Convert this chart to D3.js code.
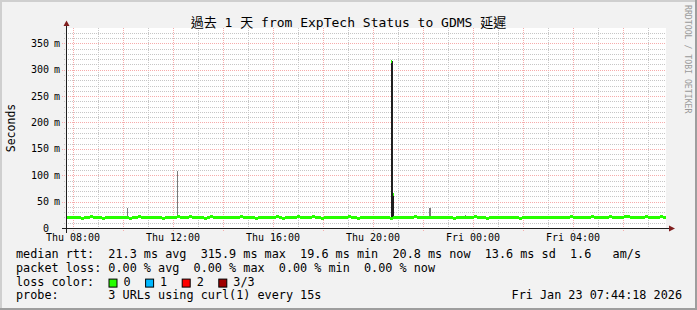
<!DOCTYPE html>
<html>
<head>
<meta charset="utf-8">
<script src="https://cdn.jsdelivr.net/npm/d3@7"></script>
<style>
    body { margin: 0; background: #f2f2f2; }
    svg { display: block; }
    text { font-family: "DejaVu Sans Mono", "Noto Sans CJK TC", monospace; fill: #000; }
</style>
</head>
<body>
<script>
    // ---- data ----
    const title = "過去 1 天 from ExpTech Status to GDMS 延遲";
    const startTime = Date.UTC(2026, 0, 22, 7, 44, 18);   // Thu
    const endTime = Date.UTC(2026, 0, 23, 7, 44, 18);     // Fri
    const stepSec = 432; // one median value every 7.2 min

    // median rtt in ms, one per step
    const medianRtt = [
        20.2,21.6,20.0,20.0,20.0,19.8,20.0,20.0,21.8,20.0,20.0,20.0,19.8,20.0,20.0,20.0,21.6,20.0,20.0,20.0,
        20.0,19.8,20.0,20.0,21.8,20.0,20.0,20.0,20.0,21.6,20.0,20.0,19.8,20.0,20.0,20.0,20.0,21.8,20.0,20.0,
        20.0,21.8,21.6,20.0,20.0,20.0,19.8,20.0,21.8,20.0,20.0,20.0,21.6,20.0,20.0,20.0,20.0,20.0,21.8,20.0,
        20.0,20.0,20.0,19.8,20.0,21.6,20.0,20.0,20.0,20.0,21.8,20.0,19.8,20.0,20.0,20.0,21.6,21.8,20.0,20.0,
        20.0,20.0,21.8,20.0,20.0,19.8,20.0,20.0,20.0,21.6,20.0,20.0,20.0,20.0,21.8,20.0,20.0,19.8,20.0,20.0,
        20.2,20.0,20.0,20.0,20.0,20.0,20.0,20.0,19.8,20.0,20.0,21.6,20.0,20.0,20.0,20.0,21.8,20.0,20.0,20.0,
        20.0,20.0,20.0,20.0,20.0,21.6,20.0,20.0,20.0,19.8,20.0,20.0,20.0,20.0,20.0,20.0,21.8,20.0,20.0,20.0,
        19.8,20.0,20.0,20.0,20.0,20.0,20.0,20.0,20.0,20.0,20.0,19.8,20.0,20.0,20.0,20.0,20.0,20.0,20.0,20.0,
        20.0,20.0,20.0,20.0,20.0,21.6,20.0,20.0,21.8,20.0,20.0,21.6,20.0,20.0,20.0,21.8,20.0,20.0,21.6,20.0,
        20.0,21.8,20.0,20.0,21.6,20.0,21.8,21.8,20.0,20.0,21.6,20.0,20.0,21.8,20.0,20.0,21.6,20.0,21.8,20.0
    ];

    // smoke outliers (single 144 s samples): time, min / max ping and median
    const outlierTime = [
        "2026-01-22T09:06:00Z", "2026-01-22T10:11:00Z", "2026-01-22T12:10:00Z", "2026-01-22T15:49:00Z",
        "2026-01-22T18:25:00Z", "2026-01-22T20:01:00Z", "2026-01-22T20:44:18Z", "2026-01-22T20:46:42Z",
        "2026-01-22T20:49:06Z", "2026-01-22T22:15:30Z", "2026-01-22T22:17:54Z", "2026-01-22T23:42:00Z",
        "2026-01-23T00:25:00Z", "2026-01-23T06:37:00Z"
    ];
    const outlierMin = [19.8, 19.8, 19.8, 19.8, 19.8, 19.8, 19.8, 19.8, 19.8, 19.8, 19.8, 19.8, 19.8, 19.8];
    const outlierMax = [23.5, 38.5, 108, 23.2, 23.5, 23.0, 315.9, 315.9, 64, 38.5, 38.5, 25.0, 23.2, 23.5];
    const outlierMedian = [20, 20, 20, 20, 20, 20, 315.9, 20, 64, 20, 20, 20, 20, 20];

    const yTicks = [0, 50, 100, 150, 200, 250, 300, 350];
    const yMax = 379;

    const statLines = [
        "median rtt:  21.3 ms avg  315.9 ms max  19.6 ms min  20.8 ms now  13.6 ms sd  1.6   am/s",
        "packet loss: 0.00 % avg  0.00 % max  0.00 % min  0.00 % now",
        "loss color:",
        "probe:       3 URLs using curl(1) every 15s"
    ];
    const lossLabels = ["0", "1", "2", "3/3"];
    const lossColors = ["#26ff00", "#00b8ff", "#ff0000", "#a00000"];
    const stampText = "Fri Jan 23 07:44:18 2026";
    const watermark = "RRDTOOL / TOBI OETIKER";

    // ---- layout ----
    const W = 697, H = 310;
    const plotL = 66, plotR = 666, plotT = 28, plotB = 228;

    const svg = d3.select("body").append("svg")
        .attr("width", W).attr("height", H);

    // frame
    svg.append("rect").attr("width", W).attr("height", H).attr("fill", "#f2f2f2");
    svg.append("path").attr("fill", "#cfcfcf")
        .attr("d", `M0,0H${W}V2H2V${H}H0Z`);
    svg.append("path").attr("fill", "#9e9e9e")
        .attr("d", `M${W},0V${H}H0V${H - 2}H${W - 2}V0Z`);

    const x = d3.scaleUtc().domain([startTime, endTime]).range([plotL, plotR]);
    const y = d3.scaleLinear().domain([0, yMax]).range([plotB, plotT]);

    svg.append("rect")
        .attr("x", plotL).attr("y", plotT)
        .attr("width", plotR - plotL).attr("height", plotB - plotT)
        .attr("fill", "#fff");

    const px = v => Math.round(v) + 0.5;

    // grid
    const grid = svg.append("g").attr("fill", "none").attr("stroke-dasharray", "1 1").attr("shape-rendering", "crispEdges");
    const hours = d3.utcHour.range(new Date(startTime), new Date(endTime));
    hours.forEach(h => {
        const major = h.getUTCHours() % 2 === 0;
        grid.append("line")
            .attr("x1", px(x(h))).attr("x2", px(x(h)))
            .attr("y1", plotT).attr("y2", plotB + (major ? 4 : 2))
            .attr("stroke", major ? "#f6abab" : "#c6c6c6");
    });
    d3.range(10, yMax, 10).forEach(v => {
        const major = v % 50 === 0;
        grid.append("line")
            .attr("x1", major ? plotL - 4 : plotL - 2).attr("x2", plotR)
            .attr("y1", px(y(v))).attr("y2", px(y(v)))
            .attr("stroke", major ? "#f6abab" : "#c6c6c6");
    });

    // smoke outliers
    const smoke = svg.append("g").attr("shape-rendering", "crispEdges");
    outlierTime.forEach((t, i) => {
        const t0 = new Date(t);
        const t1 = new Date(t0.getTime() + 144000);
        smoke.append("rect")
            .attr("x", Math.round(x(t0)))
            .attr("width", Math.max(1, Math.round(x(t1)) - Math.round(x(t0))))
            .attr("y", y(outlierMax[i]))
            .attr("height", y(outlierMin[i]) - y(outlierMax[i]))
            .attr("fill", outlierMedian[i] > 40 || outlierMax[i] > 200 ? "#1e1e1e" : "#7a7a7a");
    });

    // median band, coloured by loss (all 0 here)
    const band = svg.append("g").attr("fill", lossColors[0]).attr("shape-rendering", "crispEdges");
    medianRtt.forEach((m, i) => {
        const t0 = startTime + i * stepSec * 1000;
        const t1 = t0 + stepSec * 1000;
        band.append("rect")
            .attr("x", x(t0)).attr("width", x(t1) - x(t0))
            .attr("y", Math.round(y(m)) - 1.5).attr("height", 3);
    });
    outlierTime.forEach((t, i) => {
        if (outlierMedian[i] < 40) return;
        const t0 = new Date(t);
        band.append("rect")
            .attr("x", Math.round(x(t0))).attr("width", 1)
            .attr("y", Math.round(y(outlierMedian[i])) - 1.5).attr("height", 3);
    });

    // axes
    const axis = svg.append("g").attr("stroke", "#1f1f1f").attr("shape-rendering", "crispEdges");
    axis.append("line").attr("x1", 62).attr("x2", 670).attr("y1", plotB + 0.5).attr("y2", plotB + 0.5);
    axis.append("line").attr("x1", plotL + 0.5).attr("x2", plotL + 0.5).attr("y1", plotB + 5).attr("y2", 24);
    svg.append("path").attr("fill", "#801f1f")
        .attr("d", `M669,225.5L675,228.5L669,231.5Z`);
    svg.append("path").attr("fill", "#801f1f")
        .attr("d", `M63.5,26L66.5,20.5L69.5,26Z`);

    // y labels
    const yl = svg.append("g").style("font-size", "10px");
    yTicks.forEach(v => {
        yl.append("text").attr("x", 49).attr("y", y(v) + 3.5)
            .attr("text-anchor", "end").text(v);
        if (v > 0) yl.append("text").attr("x", 54).attr("y", y(v) + 3.5).text("m");
    });

    // x labels
    const fmt = d3.utcFormat("%a %H:%M");
    const xl = svg.append("g").style("font-size", "10px");
    d3.utcHour.every(4).range(new Date(startTime), new Date(endTime)).forEach(t => {
        xl.append("text").attr("x", x(t) + 0.5).attr("y", 241)
            .attr("text-anchor", "middle").text(fmt(t));
    });

    // title
    svg.append("text").attr("x", 348.5).attr("y", 27)
        .attr("text-anchor", "middle").style("font-size", "13px").text(title);

    // y title
    svg.append("text")
        .attr("transform", `translate(15,${(plotT + plotB) / 2}) rotate(-90)`)
        .attr("text-anchor", "middle").style("font-size", "11.5px").text("Seconds");

    // watermark
    svg.append("text")
        .attr("transform", "translate(684.5,5) rotate(90)")
        .style("font-size", "8.2px").style("fill", "#9a9a9a").text(watermark);

    // legend
    const lg = svg.append("g").style("font-size", "11.8px");
    const lineY = [258, 271.8, 285.6, 299.4];
    statLines.forEach((s, i) => {
        lg.append("text").attr("x", 16).attr("y", lineY[i])
            .attr("xml:space", "preserve").style("white-space", "pre").text(s);
    });
    let lx = 108.5;
    lossLabels.forEach((l, i) => {
        lg.append("rect").attr("x", lx + 0.5).attr("y", lineY[2] - 6.5)
            .attr("width", 8).attr("height", 8)
            .attr("fill", lossColors[i]).attr("stroke", "#000");
        lg.append("text").attr("x", lx + 15).attr("y", lineY[2]).text(l);
        lx += 15 + l.length * 7.1 + 14.5;
    });
    lg.append("text").attr("x", 682).attr("y", lineY[3])
        .attr("text-anchor", "end").text(stampText);
</script>
</body>
</html>
